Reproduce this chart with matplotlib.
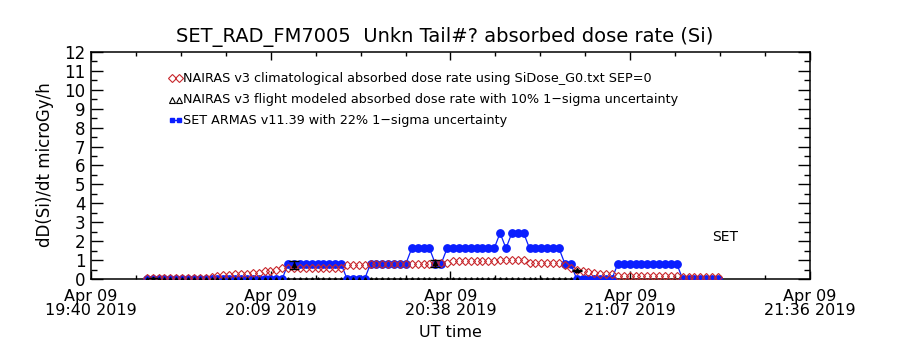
import numpy as np
import pandas as pd
import matplotlib
matplotlib.use("Agg")
import matplotlib.pyplot as plt

# ── data ────────────────────────────────────────────────────────
# samples every 57 s starting 19:49:00 UT
t_start = "2019-04-09 19:49:00"
sample_step = "57s"

set_armas = [
    0, 0, 0, 0, 0, 0, 0, 0, 0, 0, 0, 0, 0, 0, 0, 0, 0, 0, 0, 0, 0, 0, 0, 0,
    0.81, 0.81, 0.81, 0.81, 0.81, 0.81, 0.81, 0.81, 0.81, 0.81,
    0, 0, 0, 0,
    0.81, 0.81, 0.81, 0.81, 0.81, 0.81, 0.81,
    1.62, 1.62, 1.62, 1.62,
    0.81, 0.81,
    1.62, 1.62, 1.62, 1.62, 1.62, 1.62, 1.62, 1.62, 1.62,
    2.43, 1.62, 2.43, 2.43, 2.43,
    1.62, 1.62, 1.62, 1.62, 1.62, 1.62,
    0.81, 0.81,
    0, 0, 0, 0, 0, 0, 0,
    0.81, 0.81, 0.81, 0.81, 0.81, 0.81, 0.81, 0.81, 0.81, 0.81, 0.81,
    0, 0, 0, 0, 0, 0, 0,
]

nairas_clim = [
    0.05, 0.05, 0.05, 0.05, 0.05, 0.05, 0.05, 0.05, 0.05, 0.05, 0.05,
    0.08, 0.15, 0.2, 0.2, 0.26, 0.26, 0.26, 0.33, 0.33, 0.42, 0.42, 0.5, 0.56,
    0.6, 0.6, 0.6, 0.6, 0.6, 0.6, 0.6, 0.6, 0.6, 0.6,
    0.72, 0.72, 0.72, 0.72,
    0.78, 0.78, 0.78, 0.78, 0.78, 0.78, 0.78,
    0.8, 0.8, 0.8, 0.8,
    0.83, 0.83, 0.83,
    0.95, 0.95, 0.95, 0.95, 0.95, 0.95, 0.95, 0.95,
    1.0, 1.0, 1.0, 1.0, 1.0,
    0.87, 0.87, 0.87, 0.87, 0.87, 0.87,
    0.75, 0.6, 0.5, 0.42, 0.36, 0.3, 0.25, 0.25, 0.25,
    0.18, 0.18, 0.18, 0.18, 0.18,
    0.15, 0.15, 0.15, 0.15, 0.15, 0.15,
    0.1, 0.1, 0.1, 0.1, 0.1, 0.1, 0.1,
]

# flight modeled dose: zero along the track, a few points with error bars
flight_n = 74
flight_err_idx = [1, 25, 49, 73]
flight_err_val = [0.02, 0.74, 0.82, 0.45]
flight_err_sig = [0.05, 0.2, 0.18, 0.03]

x_ticks = ["2019-04-09 19:40", "2019-04-09 20:09", "2019-04-09 20:38",
           "2019-04-09 21:07", "2019-04-09 21:36"]
x_tick_labels = ["Apr 09\n19:40 2019", "Apr 09\n20:09 2019", "Apr 09\n20:38 2019",
                 "Apr 09\n21:07 2019", "Apr 09\n21:36 2019"]

legend_labels = [
    "NAIRAS v3 climatological absorbed dose rate using SiDose_G0.txt SEP=0",
    "NAIRAS v3 flight modeled absorbed dose rate with 10% 1\u2212sigma uncertainty",
    "SET ARMAS v11.39 with 22% 1\u2212sigma uncertainty",
]

RED = "#c8282d"
BLUE = "#0a1eff"

times = pd.date_range(t_start, periods=len(set_armas), freq=sample_step)
tick_times = pd.to_datetime(x_ticks)

plt.rcParams.update({
    "font.family": "DejaVu Sans",
    "axes.linewidth": 1.1,
})

fig = plt.figure(figsize=(9, 3.5), dpi=100)
ax = fig.add_axes([0.1011, 0.2029, 0.7989, 0.6486])

# SET ARMAS
ax.plot(times, set_armas, color=BLUE, linewidth=0.9, marker="o",
        markersize=5.3, markerfacecolor=BLUE, markeredgecolor=BLUE, zorder=3)

# NAIRAS climatological
ax.plot(times, nairas_clim, linestyle="none", marker="D", markersize=3.6,
        markerfacecolor="none", markeredgecolor=RED, markeredgewidth=0.8, zorder=4)

# NAIRAS flight modeled
ax.plot(times[:flight_n], np.zeros(flight_n), linestyle="none", marker="^",
        markersize=2.5, color="black", zorder=5)
ax.errorbar(times[flight_err_idx], flight_err_val, yerr=flight_err_sig,
            fmt="^", markersize=3, color="black", ecolor="black",
            elinewidth=1.0, capsize=3.5, capthick=1.0, zorder=6)

# axes
ax.set_xlim(pd.Timestamp("2019-04-09 19:40"), pd.Timestamp("2019-04-09 21:36"))
ax.set_ylim(0, 12)
ax.set_xticks(tick_times)
ax.set_xticklabels(x_tick_labels, fontsize=11.5, linespacing=0.95)
ax.set_xticks(pd.date_range(x_ticks[0], x_ticks[-1], freq="435s"), minor=True)
ax.set_yticks(np.arange(0, 13, 1))
ax.set_yticks(np.arange(0.5, 12, 1), minor=True)
ax.tick_params(axis="y", which="major", direction="in", length=8.6, width=1.0,
               labelsize=12, pad=4, right=True)
ax.tick_params(axis="y", which="minor", direction="in", length=4.3, width=1.0, right=True)
ax.tick_params(axis="x", which="major", direction="in", length=5.5, width=1.0,
               pad=7, top=True)
ax.tick_params(axis="x", which="minor", direction="in", length=3, width=1.0, top=True)

fig.text(0.494, 0.894, "SET_RAD_FM7005  Unkn Tail#? absorbed dose rate (Si)",
         ha="center", va="center", fontsize=14)
fig.text(0.05, 0.529, "dD(Si)/dt microGy/h", rotation=90,
         ha="center", va="center", fontsize=12)
fig.text(0.5, 0.049, "UT time", ha="center", va="center", fontsize=11.5)
ax.text(0.882, 0.185, "SET", transform=ax.transAxes, ha="center", va="center",
        fontsize=10)

# legend drawn IDL-style: two symbols then text
leg_y = [0.885, 0.789, 0.70]
ax.plot([0.113, 0.123], [leg_y[0]] * 2, transform=ax.transAxes, linestyle="none",
        marker="D", markersize=3.6, markerfacecolor="none", markeredgecolor=RED,
        markeredgewidth=0.8, clip_on=False)
ax.plot([0.113, 0.123], [leg_y[1]] * 2, transform=ax.transAxes, linestyle="none",
        marker="^", markersize=4, markerfacecolor="none", markeredgecolor="black",
        markeredgewidth=0.8, clip_on=False)
ax.plot([0.113, 0.123], [leg_y[2]] * 2, transform=ax.transAxes, color=BLUE,
        linewidth=1, marker="s", markersize=3.5, clip_on=False)
for y, lab in zip(leg_y, legend_labels):
    ax.text(0.128, y, lab, transform=ax.transAxes, ha="left", va="center",
            fontsize=9.2)

fig.savefig("out.png", dpi=100, facecolor="white")
